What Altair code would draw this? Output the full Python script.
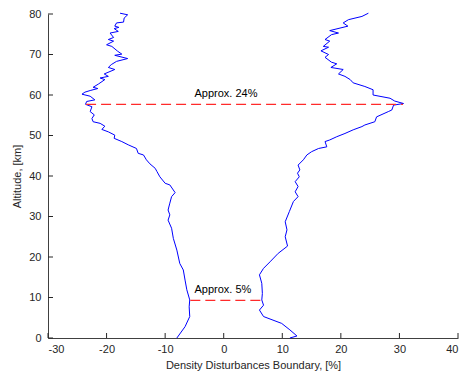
import altair as alt
import pandas as pd

# Left boundary (altitude km, disturbance %)
left_alt = [0.0, 2.8, 5.3, 7.7, 9.4, 11.9, 14.3, 16.8, 18.4, 21.7, 24.6, 27.1, 29.1, 30.4,
            31.6, 33.3, 34.9, 35.9, 37.8, 38.2, 39.8, 41.1, 41.9, 43.0, 44.0, 45.2, 45.6,
            46.8, 47.7, 48.5, 49.3, 50.1, 50.9, 51.5, 52.3, 53.0, 53.4, 54.2, 55.1, 55.9,
            57.1, 57.7, 58.4, 58.8, 59.7, 60.2, 60.7, 61.1, 61.6, 61.9, 62.7, 63.8, 64.2,
            64.6, 65.2, 66.3, 66.8, 67.5, 68.3, 69.0, 69.8, 70.1, 70.8, 72.0, 72.4, 73.3,
            73.7, 74.2, 75.3, 75.7, 76.4, 76.7, 77.0, 77.8, 78.0, 79.0, 79.8, 80.2]
left_val = [-8.0, -6.6, -5.8, -5.9, -5.8, -6.3, -6.6, -6.9, -7.5, -8.0, -8.6, -8.9, -9.5, -9.2,
            -9.5, -9.2, -8.9, -8.3, -9.2, -10.0, -10.9, -11.4, -11.7, -12.6, -13.2, -13.7, -14.6,
            -14.9, -16.3, -17.4, -18.7, -18.6, -19.7, -20.8, -20.3, -21.1, -22.3, -22.5, -22.1, -22.8,
            -22.5, -23.6, -23.4, -22.0, -22.8, -24.2, -23.7, -22.8, -21.5, -22.3, -21.4, -20.3, -21.1,
            -19.7, -20.4, -18.6, -19.7, -19.2, -18.3, -16.4, -18.6, -17.4, -18.1, -19.1, -20.0, -18.8,
            -19.7, -18.8, -19.4, -18.0, -18.7, -17.9, -18.6, -18.3, -17.1, -17.0, -16.4, -17.7]

# Right boundary
right_alt = [0.0, 0.5, 2.0, 3.6, 5.3, 6.9, 8.1, 9.4, 11.0, 13.5, 15.6, 17.2, 18.8, 20.9, 22.7,
             25.0, 26.7, 28.7, 31.2, 33.7, 34.9, 36.1, 37.4, 38.6, 39.8, 40.7, 41.5, 42.7, 44.0,
             45.2, 46.0, 46.8, 47.2, 48.5, 48.9, 49.7, 50.5, 51.4, 52.2, 52.6, 53.4, 54.6, 55.9,
             56.3, 57.5, 57.9, 58.5, 59.2, 60.0, 61.3, 62.1, 63.0, 63.8, 64.6, 65.2, 66.3, 66.8,
             67.7, 68.1, 69.3, 70.0, 70.9, 71.8, 72.0, 73.3, 73.7, 74.9, 75.3, 75.9, 77.0, 77.8,
             78.6, 79.4, 80.2]
right_val = [11.3, 12.5, 11.3, 9.9, 6.8, 6.1, 6.8, 6.5, 6.6, 6.5, 6.1, 6.8, 7.9, 9.3, 10.9,
             10.5, 10.8, 10.5, 11.2, 11.9, 12.7, 12.2, 12.7, 12.2, 12.9, 12.6, 13.0, 12.7, 13.6,
             14.2, 15.0, 16.2, 17.6, 17.3, 18.1, 19.3, 20.7, 22.1, 23.6, 24.1, 25.8, 26.1, 28.1,
             28.7, 29.0, 30.7, 29.2, 28.4, 25.5, 25.5, 24.1, 22.1, 21.6, 20.7, 19.6, 20.4, 18.3,
             19.3, 18.4, 17.3, 17.9, 16.6, 17.9, 17.0, 18.1, 17.3, 18.4, 19.6, 18.1, 21.2, 20.4,
             21.3, 23.6, 24.7]

# Dashed markers
dash_series = ["upper", "upper", "lower", "lower"]
dash_alt = [57.7, 57.7, 9.3, 9.3]
dash_val = [-23.5, 30.6, -5.7, 6.4]

# Annotations
ann_text = ["Approx. 24%", "Approx. 5%"]
ann_alt = [60.2, 11.8]
ann_val = [-5.0, -5.0]

x_ticks = [-30, -20, -10, 0, 10, 20, 30, 40]
y_ticks = [0, 10, 20, 30, 40, 50, 60, 70, 80]

rows = []
for i, (a, v) in enumerate(zip(left_alt, left_val)):
    rows.append(dict(series="left", alt=a, x=v, i=i))
for i, (a, v) in enumerate(zip(right_alt, right_val)):
    rows.append(dict(series="right", alt=a, x=v, i=i))
curves_df = pd.DataFrame(rows)
dash_df = pd.DataFrame(dict(series=dash_series, alt=dash_alt, x=dash_val))
ann_df = pd.DataFrame(dict(text=ann_text, alt=ann_alt, x=ann_val))
xt_df = pd.DataFrame(dict(x=x_ticks))
yt_df = pd.DataFrame(dict(alt=y_ticks))

W, H = 410, 324
FONT = "Liberation Sans"
AX = "#262626"
xscale = alt.Scale(domain=[-30, 40], nice=False, zero=False)
yscale = alt.Scale(domain=[0, 80], nice=False, zero=False)

main_x_axis = alt.Axis(values=x_ticks, ticks=False, labelPadding=5, grid=False,
                       labelExpr="toString(datum.value)",
                       domainColor="#404040", labelColor=AX, labelFontSize=11,
                       labelFont=FONT, titleFont=FONT, titleFontSize=11,
                       titleFontWeight="normal", titleColor=AX, titlePadding=5)
main_y_axis = alt.Axis(values=y_ticks, ticks=False, labelPadding=7, grid=False,
                       labelExpr="toString(datum.value)",
                       domainColor="#404040", labelColor=AX, labelFontSize=11,
                       labelFont=FONT, titleFont=FONT, titleFontSize=11,
                       titleFontWeight="normal", titleColor=AX, titlePadding=6)

curves = alt.Chart(curves_df).mark_line(color="#0000ff", strokeWidth=1).encode(
    x=alt.X("x:Q", scale=xscale, axis=main_x_axis, title="Density Disturbances Boundary, [%]"),
    y=alt.Y("alt:Q", scale=yscale, axis=main_y_axis, title="Altitude, [km]"),
    detail="series:N",
    order="i:Q",
)

dashes = alt.Chart(dash_df).mark_line(color="#ff2a2a", strokeWidth=1.2, strokeDash=[10, 5]).encode(
    x=alt.X("x:Q", scale=xscale),
    y=alt.Y("alt:Q", scale=yscale),
    detail="series:N",
)

texts = alt.Chart(ann_df).mark_text(align="left", baseline="middle", font=FONT,
                                     fontSize=11, color="#000000").encode(
    x=alt.X("x:Q", scale=xscale),
    y=alt.Y("alt:Q", scale=yscale),
    text="text:N",
)

# inward tick marks
xticks = alt.Chart(xt_df).mark_rule(color=AX, strokeWidth=1).encode(
    x=alt.X("x:Q", scale=xscale),
    y=alt.value(H),
    y2=alt.value(H - 5),
)
yticks = alt.Chart(yt_df).mark_rule(color=AX, strokeWidth=1).encode(
    y=alt.Y("alt:Q", scale=yscale),
    x=alt.value(0),
    x2=alt.value(5),
)

chart = alt.layer(curves, dashes, texts, xticks, yticks).properties(
    width=W, height=H,
    autosize=alt.AutoSizeParams(type="none"),
    padding={"left": 48, "top": 14, "right": 5, "bottom": 45},
    background="#ffffff",
).configure_view(stroke=None)

chart.save("out.html", embed_options={"renderer": "svg", "actions": False})
